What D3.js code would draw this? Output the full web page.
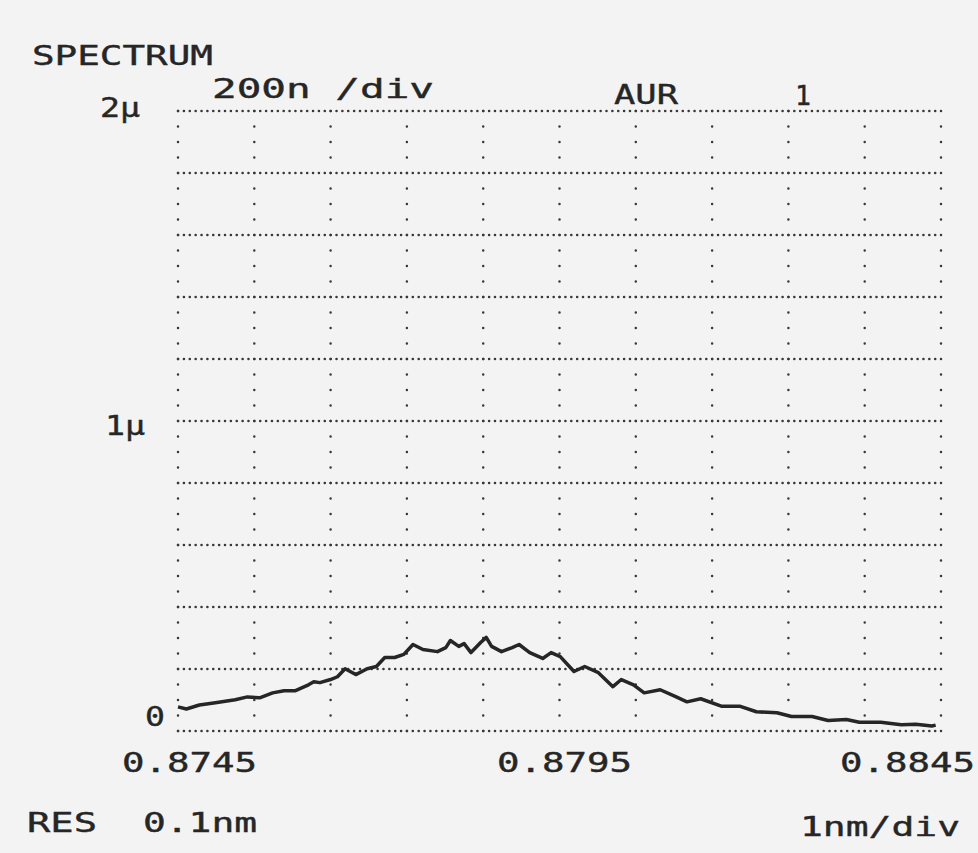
<!DOCTYPE html>
<html>
<head>
<meta charset="utf-8">
<script src="https://cdn.jsdelivr.net/npm/d3@7"></script>
<style>
  body { margin: 0; background: #f3f3f3; }
  svg { display: block; }
  text { font-family: "DejaVu Sans Mono", "Liberation Mono", monospace; fill: #262626; }
</style>
</head>
<body>
<svg></svg>
<script>
// wavelength in um (1 nm / div), power in uW
const wavelength = [
  0.87450, 0.87461, 0.87478, 0.87499, 0.87525, 0.87541, 0.87557, 0.87574, 0.87589, 0.87604,
  0.87621, 0.87628, 0.87636, 0.87650, 0.87659, 0.87669, 0.87683, 0.87698, 0.87710, 0.87721,
  0.87734, 0.87746, 0.87758, 0.87771, 0.87790, 0.87801, 0.87807, 0.87818, 0.87825, 0.87834,
  0.87847, 0.87854, 0.87861, 0.87874, 0.87888, 0.87897, 0.87911, 0.87928, 0.87939, 0.87951,
  0.87969, 0.87983, 0.88001, 0.88020, 0.88031, 0.88047, 0.88061, 0.88082, 0.88103, 0.88117,
  0.88135, 0.88162, 0.88186, 0.88208, 0.88235, 0.88254, 0.88281, 0.88302, 0.88326, 0.88343,
  0.88371, 0.88398, 0.88417, 0.88438, 0.88443
];
const power = [
  0.078, 0.071, 0.084, 0.091, 0.101, 0.110, 0.107, 0.123, 0.130, 0.130,
  0.149, 0.159, 0.156, 0.166, 0.175, 0.201, 0.182, 0.201, 0.208, 0.237,
  0.237, 0.247, 0.279, 0.263, 0.256, 0.269, 0.292, 0.273, 0.282, 0.253,
  0.286, 0.302, 0.273, 0.256, 0.269, 0.279, 0.253, 0.234, 0.253, 0.240,
  0.192, 0.208, 0.188, 0.143, 0.166, 0.149, 0.123, 0.133, 0.110, 0.094,
  0.104, 0.080, 0.080, 0.062, 0.059, 0.047, 0.047, 0.034, 0.037, 0.028,
  0.028, 0.020, 0.022, 0.016, 0.019
];
const xTicks = [0.8745, 0.8795, 0.8845];
const xTickLabels = ["0.8745", "0.8795", "0.8845"];
const yTicks = [0, 1, 2];
const yTickLabels = ["0", "1\u00b5", "2\u00b5"];

const svg = d3.select("svg")
  .attr("width", 978)
  .attr("height", 853);

// plot area
const plotLeft = 178, plotRight = 941, plotTop = 111, plotBottom = 731;

const x = d3.scaleLinear()
  .domain([0.8745, 0.8845])
  .range([plotLeft, plotRight]);

const y = d3.scaleLinear()
  .domain([0, 2])
  .range([plotBottom, plotTop]);

// dotted grid, 10 x 10 divisions
const xGrid = d3.range(11).map(i => 0.8745 + i * 0.001);
const yGrid = d3.range(11).map(i => i * 0.2);

const grid = svg.append("g")
  .attr("stroke", "#383838")
  .attr("stroke-width", 2.5)
  .attr("stroke-linecap", "round");

grid.selectAll(".hline")
  .data(yGrid).enter().append("line")
  .attr("class", "hline")
  .attr("x1", plotLeft).attr("x2", plotRight)
  .attr("y1", d => y(d)).attr("y2", d => y(d))
  .attr("stroke-dasharray", `0.1 ${(plotRight - plotLeft) / 130 - 0.1}`);

grid.selectAll(".vline")
  .data(xGrid).enter().append("line")
  .attr("class", "vline")
  .attr("x1", d => x(d)).attr("x2", d => x(d))
  .attr("y1", plotTop).attr("y2", plotBottom)
  .attr("stroke-dasharray", `0.1 ${(plotBottom - plotTop) / 40 - 0.1}`);

// spectrum trace
const line = d3.line()
  .x(d => x(d[0]))
  .y(d => y(d[1]));

svg.append("path")
  .attr("fill", "none")
  .attr("stroke", "#262626")
  .attr("stroke-width", 3.5)
  .attr("stroke-linejoin", "round")
  .attr("d", line(wavelength.map((w, i) => [w, power[i]])));

// helper for the wide plotter lettering
function label(txt, px, py, len) {
  svg.append("text")
    .attr("x", px)
    .attr("y", py)
    .attr("font-size", "27px")
    .attr("stroke", "#262626")
    .attr("stroke-width", 0.4)
    .attr("textLength", len)
    .attr("lengthAdjust", "spacingAndGlyphs")
    .text(txt);
}

// y labels
const yOffsets = [-5, 14, 6];
yTicks.forEach((t, i) => {
  const txt = yTickLabels[i];
  label(txt, i === 0 ? 145 : 100 + (i === 1 ? 5 : 0), y(t) + yOffsets[i], txt.length * 20);
});

// x labels
const xStarts = [122, 497, 840];
xTicks.forEach((t, i) => {
  label(xTickLabels[i], xStarts[i], 772, 135);
});

// header and footer texts
label("SPECTRUM", 32, 65, 181);
label("200n /div", 212, 98, 222);
label("AUR", 614, 104, 64);
label("1", 795, 105, 16);
label("RES", 27, 832, 70);
label("0.1nm", 143, 832, 114);
label("1nm/div", 800, 836, 160);
</script>
</body>
</html>
